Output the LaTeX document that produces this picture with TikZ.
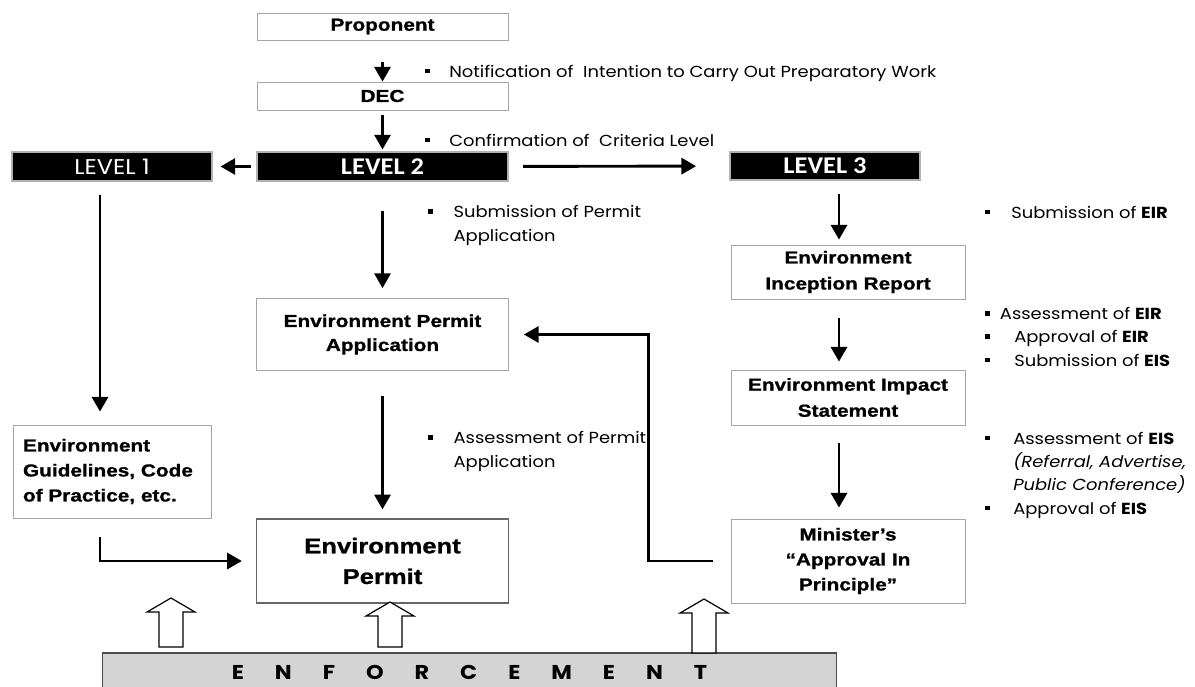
\documentclass[tikz,border=0pt]{standalone}
\usepackage{fontspec}
\usetikzlibrary{arrows.meta}
\newfontfamily\gothic[FakeStretch=1.12]{Poppins}
\newfontfamily\heavy[FakeStretch=1.2, BoldFeatures={FakeBold=1}]{Liberation Sans}
\newfontfamily\calib[FakeStretch=1.1]{Carlito}
\newcommand\bul[1][18pt]{\makebox[#1][l]{\rule[0.22em]{0.3em}{0.3em}}}

\begin{document}
\begin{tikzpicture}[x=0.75pt,y=0.75pt,yscale=-1,
  box/.style={draw=gray!70, line width=0.6pt, fill=white, inner sep=0pt, align=center,
    font=\heavy\bfseries\fontsize{13}{18.75}\selectfont},
  lvl/.style={draw=gray!60, line width=0.8pt, fill=black, text=white, inner sep=0pt},
  flow/.style={line width=2.2pt, -{Triangle[length=11pt,width=12pt]}},
  note/.style={anchor=base west, inner sep=0pt, align=left,
    font=\gothic\fontsize{12}{17.5}\selectfont},
  hollow/.style={draw=black, line width=0.9pt, fill=white},
  enfbox/.style={draw=gray!60!black, line width=0.9pt, fill=black!17, inner sep=0pt,
    font=\gothic\bfseries\fontsize{15}{18}\selectfont}]
\useasboundingbox (0,0) rectangle (1195,686);

% top of the chain
\node[box, minimum width=188.25pt, minimum height=20.25pt] (prop) at (382.5,26.5) {Proponent};
\node[box, minimum width=188.25pt, minimum height=21pt] (dec) at (382.5,96) {DEC};

% levels
\node[lvl, minimum width=150pt, minimum height=21.75pt, font=\gothic\fontsize{16}{18}\selectfont] (lvl1) at (112,166.5) {LEVEL 1};
\node[lvl, minimum width=188.25pt, minimum height=21.75pt, font=\calib\bfseries\fontsize{18}{19}\selectfont] (lvl2) at (382.5,166.5) {LEVEL 2};
\node[lvl, minimum width=142.5pt, minimum height=21pt, font=\calib\bfseries\fontsize{18}{19}\selectfont] (lvl3) at (825,166) {LEVEL 3};

% boxes
\node[box, minimum width=189pt, minimum height=54pt, font=\heavy\bfseries\fontsize{13}{18}\selectfont] (epa) at (382.5,334.5) {Environment Permit\\Application};
\node[box, minimum width=189pt, minimum height=63pt, draw=gray!80!black, line width=1pt,
  font=\heavy\bfseries\fontsize{16}{23}\selectfont] (ep) at (382.5,561) {Environment\\Permit};
\node[box, minimum width=148.5pt, minimum height=69.75pt, text width=133.5pt, align=left] (guide) at (112,471.5) {Environment\\Guidelines, Code\\of Practice, etc.};
\node[box, minimum width=175.5pt, minimum height=40.5pt, font=\heavy\bfseries\fontsize{13}{19.5}\selectfont] (eir) at (848,272) {Environment\\Inception Report};
\node[box, minimum width=175.5pt, minimum height=41.25pt, font=\heavy\bfseries\fontsize{13}{19.5}\selectfont] (eis) at (848,397.5) {Environment Impact\\Statement};
\node[box, minimum width=175.5pt, minimum height=63pt] (mapp) at (848,561) {Minister’s\\“Approval In\\Principle”};
\node[enfbox, minimum width=551pt, minimum height=28.5pt] (enf) at (469.5,672) {\spaceskip=1.55em E N F O R C E M E N T};

% notes
\node[note] (notif) at (425,77) {\bul[18pt]Notification of\ \ Intention to Carry Out Preparatory Work};
\node[note] (confirm) at (425,146) {\bul[18pt]Confirmation of\ \ Criteria Level};
\node[note] (subperm) at (428,241) {\bul[19pt]Submission of Permit\\\hspace*{19pt}Application};
\node[note] (subeir) at (985,218) {\bul[19.5pt]Submission of \textbf{EIR}};
\node[note] (asseir) at (985,366) {\bul[11pt]Assessment of \textbf{EIR}\\\bul[21.75pt]Approval of \textbf{EIR}\\\bul[21.75pt]Submission of \textbf{EIS}};
\node[note] (assperm) at (428,467) {\bul[19pt]Assessment of Permit\\\hspace*{19pt}Application};
\node[note] (asseis) at (985,514) {\bul[21pt]Assessment of \textbf{EIS}\\\hspace*{21pt}\textit{(Referral, Advertise,}\\\hspace*{21pt}\textit{Public Conference)}\\\bul[21pt]Approval of \textbf{EIS}};

% arrows
\draw[flow, shorten <=16.5pt] (prop) -- (dec);
\draw[flow, shorten <=3.75pt, shorten >=1.5pt] (dec) -- (lvl2);
\draw[flow, shorten <=3.75pt, shorten >=6pt] (lvl2) -- (lvl1);
\draw[flow, shorten <=11pt, shorten >=25pt] (lvl2) -- (lvl3);
\draw[flow, shorten <=9.75pt, shorten >=9.75pt] ([xshift=-9pt]lvl1.south) -- ([xshift=-9pt]guide.north);
\draw[flow, shorten <=21.75pt, shorten >=7.5pt] (lvl2) -- (epa);
\draw[flow, shorten <=18.75pt, shorten >=6.75pt] (epa) -- (ep);
\draw[flow, shorten <=9.75pt, shorten >=3.75pt] ([xshift=10.5pt]lvl3.south) -- ([xshift=-6.75pt]eir.north);
\draw[flow, shorten <=14.25pt, shorten >=6pt] ([xshift=-6.75pt]eir.south) -- ([xshift=-6.75pt]eis.north);
\draw[flow, shorten <=13.5pt, shorten >=8.25pt] ([xshift=-6.75pt]eis.south) -- ([xshift=-6.75pt]mapp.north);
\draw[flow, shorten >=10.5pt] ([xshift=-9pt]guide.south) ++(0,19) |- (ep.west);
\draw[flow, shorten >=11.25pt] ([xshift=-13.5pt]mapp.west) -- ++(-64,0) |- (epa.east);

% enforcement arrows
\foreach \cx/\tp/\bt in {171/598/647, 390/602/647, 704/599/653}
  \draw[hollow] (\cx-12,\bt) -- (\cx-12,\tp+14) -- (\cx-24,\tp+14) -- (\cx,\tp)
    -- (\cx+24,\tp+14) -- (\cx+12,\tp+14) -- (\cx+12,\bt) -- cycle;
\end{tikzpicture}
\end{document}
